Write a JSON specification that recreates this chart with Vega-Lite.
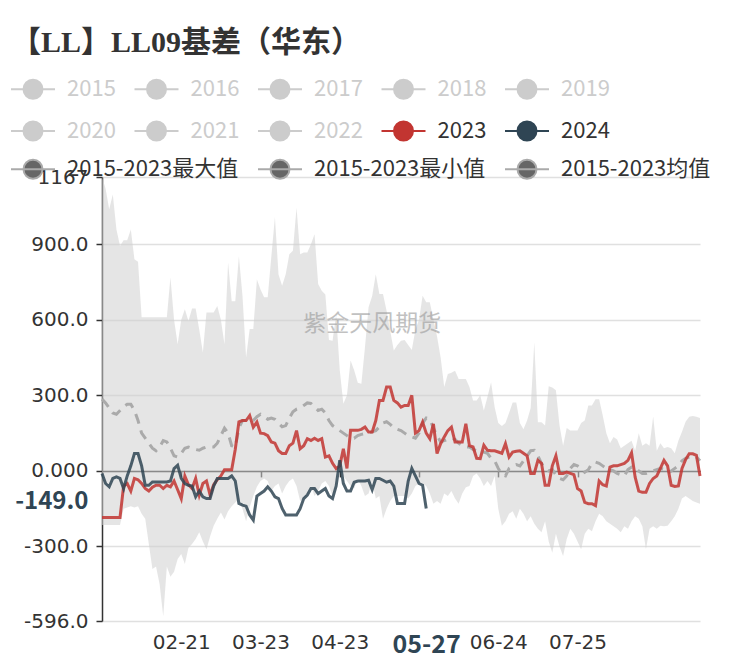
{
  "$schema": "https://vega.github.io/schema/vega-lite/v6.json",
  "width": 598,
  "height": 444,
  "autosize": {"type": "none"},
  "padding": {"left": 102, "top": 177, "right": 46, "bottom": 44},
  "background": "white",
  "config": {
    "view": {"stroke": null},
    "font": "Noto Sans CJK SC",
    "axis": {"labelFont": "DejaVu Sans", "title": null}
  },
  "title": {
    "text": "【LL】LL09基差（华东）",
    "orient": "top",
    "anchor": "start",
    "frame": "group",
    "font": "Liberation Serif, Noto Sans CJK SC",
    "fontSize": 30,
    "fontWeight": "bold",
    "color": "#333333",
    "dx": -91,
    "offset": 20
  },
  "datasets": {
    "band": [
      {"i":0,"lo":-215,"hi":1167},{"i":1,"lo":-215,"hi":1120},{"i":2,"lo":-215,"hi":1039},{"i":3,"lo":-215,"hi":1098},{"i":4,"lo":-215,"hi":960},{"i":5,"lo":-215,"hi":893},{"i":6,"lo":-150,"hi":916},{"i":7,"lo":-145,"hi":916},{"i":8,"lo":-140,"hi":959},{"i":9,"lo":-145,"hi":840},
      {"i":10,"lo":-140,"hi":830},{"i":11,"lo":-170,"hi":610},{"i":12,"lo":-190,"hi":610},{"i":13,"lo":-290,"hi":610},{"i":14,"lo":-390,"hi":610},{"i":15,"lo":-380,"hi":610},{"i":16,"lo":-450,"hi":610},{"i":17,"lo":-577,"hi":610},{"i":18,"lo":-380,"hi":610},{"i":19,"lo":-420,"hi":768},
      {"i":20,"lo":-400,"hi":600},{"i":21,"lo":-350,"hi":503},{"i":22,"lo":-330,"hi":600},{"i":23,"lo":-370,"hi":642},{"i":24,"lo":-305,"hi":595},{"i":25,"lo":-290,"hi":645},{"i":26,"lo":-270,"hi":645},{"i":27,"lo":-244,"hi":560},{"i":28,"lo":-280,"hi":470},{"i":29,"lo":-311,"hi":629},
      {"i":30,"lo":-260,"hi":629},{"i":31,"lo":-218,"hi":629},{"i":32,"lo":-190,"hi":655},{"i":33,"lo":-165,"hi":600},{"i":34,"lo":-193,"hi":503},{"i":35,"lo":-160,"hi":828},{"i":36,"lo":-140,"hi":674},{"i":37,"lo":-125,"hi":674},{"i":38,"lo":-112,"hi":852},{"i":39,"lo":-150,"hi":694},
      {"i":40,"lo":-200,"hi":450},{"i":41,"lo":-143,"hi":563},{"i":42,"lo":-100,"hi":563},{"i":43,"lo":-63,"hi":760},{"i":44,"lo":-40,"hi":720},{"i":45,"lo":-30,"hi":690},{"i":46,"lo":-40,"hi":690},{"i":47,"lo":-80,"hi":850},{"i":48,"lo":-60,"hi":1007},{"i":49,"lo":-50,"hi":780},
      {"i":50,"lo":-90,"hi":735},{"i":51,"lo":-60,"hi":781},{"i":52,"lo":-40,"hi":860},{"i":53,"lo":-30,"hi":874},{"i":54,"lo":-60,"hi":1045},{"i":55,"lo":-120,"hi":860},{"i":56,"lo":-110,"hi":867},{"i":57,"lo":-100,"hi":867},{"i":58,"lo":-60,"hi":900},{"i":59,"lo":-100,"hi":940},
      {"i":60,"lo":-80,"hi":742},{"i":61,"lo":-50,"hi":715},{"i":62,"lo":-40,"hi":700},{"i":63,"lo":-60,"hi":520},{"i":64,"lo":-100,"hi":517},{"i":65,"lo":-30,"hi":620},{"i":66,"lo":10,"hi":400},{"i":67,"lo":-20,"hi":267},{"i":68,"lo":-40,"hi":300},{"i":69,"lo":-60,"hi":438},
      {"i":70,"lo":-70,"hi":400},{"i":71,"lo":-30,"hi":350},{"i":72,"lo":-60,"hi":346},{"i":73,"lo":-100,"hi":491},{"i":74,"lo":-90,"hi":650},{"i":75,"lo":-40,"hi":694},{"i":76,"lo":-110,"hi":781},{"i":77,"lo":-100,"hi":702},{"i":78,"lo":-190,"hi":702},{"i":79,"lo":-150,"hi":636},
      {"i":80,"lo":-120,"hi":557},{"i":81,"lo":-100,"hi":478},{"i":82,"lo":-100,"hi":500},{"i":83,"lo":-100,"hi":517},{"i":84,"lo":-100,"hi":520},{"i":85,"lo":-110,"hi":500},{"i":86,"lo":-90,"hi":480},{"i":87,"lo":-60,"hi":560},{"i":88,"lo":-50,"hi":600},{"i":89,"lo":-50,"hi":695},
      {"i":90,"lo":-60,"hi":670},{"i":91,"lo":-90,"hi":670},{"i":92,"lo":-130,"hi":600},{"i":93,"lo":-120,"hi":535},{"i":94,"lo":-130,"hi":450},{"i":95,"lo":-90,"hi":333},{"i":96,"lo":-100,"hi":385},{"i":97,"lo":-80,"hi":390},{"i":98,"lo":-110,"hi":398},{"i":99,"lo":-130,"hi":365},
      {"i":100,"lo":-90,"hi":365},{"i":101,"lo":-65,"hi":365},{"i":102,"lo":-60,"hi":333},{"i":103,"lo":-20,"hi":280},{"i":104,"lo":-10,"hi":280},{"i":105,"lo":-30,"hi":300},{"i":106,"lo":-60,"hi":240},{"i":107,"lo":-40,"hi":293},{"i":108,"lo":-60,"hi":352},{"i":109,"lo":-20,"hi":253},
      {"i":110,"lo":-150,"hi":190},{"i":111,"lo":-218,"hi":178},{"i":112,"lo":-200,"hi":190},{"i":113,"lo":-170,"hi":230},{"i":114,"lo":-160,"hi":272},{"i":115,"lo":-190,"hi":272},{"i":116,"lo":-150,"hi":190},{"i":117,"lo":-170,"hi":165},{"i":118,"lo":-200,"hi":200},{"i":119,"lo":-180,"hi":250},
      {"i":120,"lo":-210,"hi":511},{"i":121,"lo":-230,"hi":193},{"i":122,"lo":-244,"hi":193},{"i":123,"lo":-200,"hi":180},{"i":124,"lo":-280,"hi":336},{"i":125,"lo":-325,"hi":331},{"i":126,"lo":-250,"hi":320},{"i":127,"lo":-300,"hi":180},{"i":128,"lo":-338,"hi":100},{"i":129,"lo":-270,"hi":170},
      {"i":130,"lo":-230,"hi":160},{"i":131,"lo":-250,"hi":160},{"i":132,"lo":-280,"hi":160},{"i":133,"lo":-311,"hi":190},{"i":134,"lo":-250,"hi":200},{"i":135,"lo":-230,"hi":260},{"i":136,"lo":-240,"hi":260},{"i":137,"lo":-200,"hi":285},{"i":138,"lo":-170,"hi":285},{"i":139,"lo":-180,"hi":220},
      {"i":140,"lo":-200,"hi":150},{"i":141,"lo":-210,"hi":110},{"i":142,"lo":-220,"hi":135},{"i":143,"lo":-230,"hi":125},{"i":144,"lo":-244,"hi":90},{"i":145,"lo":-220,"hi":100},{"i":146,"lo":-230,"hi":110},{"i":147,"lo":-200,"hi":120},{"i":148,"lo":-180,"hi":80},{"i":149,"lo":-190,"hi":150},
      {"i":150,"lo":-220,"hi":100},{"i":151,"lo":-311,"hi":110},{"i":152,"lo":-230,"hi":100},{"i":153,"lo":-220,"hi":216},{"i":154,"lo":-230,"hi":80},{"i":155,"lo":-218,"hi":110},{"i":156,"lo":-220,"hi":90},{"i":157,"lo":-218,"hi":95},{"i":158,"lo":-200,"hi":90},{"i":159,"lo":-180,"hi":70},
      {"i":160,"lo":-150,"hi":120},{"i":161,"lo":-110,"hi":155},{"i":162,"lo":-100,"hi":195},{"i":163,"lo":-110,"hi":215},{"i":164,"lo":-120,"hi":218},{"i":165,"lo":-125,"hi":215},{"i":166,"lo":-130,"hi":210}
    ],
    "mean": [
      {"i":0,"v":285},{"i":1,"v":270},{"i":2,"v":250},{"i":3,"v":230},{"i":4,"v":225},{"i":5,"v":240},{"i":6,"v":255},{"i":7,"v":265},{"i":8,"v":265},{"i":9,"v":240},
      {"i":10,"v":200},{"i":11,"v":150},{"i":12,"v":130},{"i":13,"v":110},{"i":14,"v":90},{"i":15,"v":80},{"i":16,"v":95},{"i":17,"v":120},{"i":18,"v":115},{"i":19,"v":90},
      {"i":20,"v":60},{"i":21,"v":55},{"i":22,"v":70},{"i":23,"v":90},{"i":24,"v":95},{"i":25,"v":90},{"i":26,"v":85},{"i":27,"v":82},{"i":28,"v":90},{"i":29,"v":95},
      {"i":30,"v":95},{"i":31,"v":95},{"i":32,"v":110},{"i":33,"v":140},{"i":34,"v":170},{"i":35,"v":150},{"i":36,"v":100},{"i":37,"v":95},{"i":38,"v":170},{"i":39,"v":200},
      {"i":40,"v":200},{"i":41,"v":195},{"i":42,"v":200},{"i":43,"v":215},{"i":44,"v":225},{"i":45,"v":215},{"i":46,"v":205},{"i":47,"v":210},{"i":48,"v":205},{"i":49,"v":190},
      {"i":50,"v":175},{"i":51,"v":180},{"i":52,"v":210},{"i":53,"v":235},{"i":54,"v":245},{"i":55,"v":250},{"i":56,"v":260},{"i":57,"v":270},{"i":58,"v":268},{"i":59,"v":255},
      {"i":60,"v":240},{"i":61,"v":245},{"i":62,"v":230},{"i":63,"v":200},{"i":64,"v":180},{"i":65,"v":170},{"i":66,"v":160},{"i":67,"v":150},{"i":68,"v":140},{"i":69,"v":130},
      {"i":70,"v":130},{"i":71,"v":140},{"i":72,"v":145},{"i":73,"v":148},{"i":74,"v":150},{"i":75,"v":155},{"i":76,"v":160},{"i":77,"v":175},{"i":78,"v":190},{"i":79,"v":195},
      {"i":80,"v":185},{"i":81,"v":170},{"i":82,"v":165},{"i":83,"v":160},{"i":84,"v":150},{"i":85,"v":140},{"i":86,"v":135},{"i":87,"v":130},{"i":88,"v":150},{"i":89,"v":190},
      {"i":90,"v":210},{"i":91,"v":205},{"i":92,"v":170},{"i":93,"v":140},{"i":94,"v":115},{"i":95,"v":120},{"i":96,"v":125},{"i":97,"v":130},{"i":98,"v":125},{"i":99,"v":110},
      {"i":100,"v":100},{"i":101,"v":95},{"i":102,"v":95},{"i":103,"v":85},{"i":104,"v":80},{"i":105,"v":75},{"i":106,"v":75},{"i":107,"v":70},{"i":108,"v":50},{"i":109,"v":40},
      {"i":110,"v":10},{"i":111,"v":-15},{"i":112,"v":-20},{"i":113,"v":10},{"i":114,"v":20},{"i":115,"v":25},{"i":116,"v":20},{"i":117,"v":40},{"i":118,"v":60},{"i":119,"v":80},
      {"i":120,"v":82},{"i":121,"v":60},{"i":122,"v":30},{"i":123,"v":10},{"i":124,"v":0},{"i":125,"v":5},{"i":126,"v":-15},{"i":127,"v":-30},{"i":128,"v":-35},{"i":129,"v":-20},
      {"i":130,"v":10},{"i":131,"v":25},{"i":132,"v":20},{"i":133,"v":10},{"i":134,"v":-5},{"i":135,"v":5},{"i":136,"v":30},{"i":137,"v":35},{"i":138,"v":30},{"i":139,"v":20},
      {"i":140,"v":10},{"i":141,"v":5},{"i":142,"v":0},{"i":143,"v":-10},{"i":144,"v":-15},{"i":145,"v":-20},{"i":146,"v":5},{"i":147,"v":15},{"i":148,"v":10},{"i":149,"v":0},
      {"i":150,"v":-10},{"i":151,"v":-10},{"i":152,"v":-5},{"i":153,"v":0},{"i":154,"v":5},{"i":155,"v":10},{"i":156,"v":5},{"i":157,"v":-10},{"i":158,"v":0},{"i":159,"v":10},
      {"i":160,"v":20},{"i":161,"v":40},{"i":162,"v":50},{"i":163,"v":55},{"i":164,"v":60},{"i":165,"v":55},{"i":166,"v":40}
    ],
    "years": [
      {"year":"2023","i":0,"v":-185},{"year":"2023","i":1,"v":-185},{"year":"2023","i":2,"v":-185},{"year":"2023","i":3,"v":-185},{"year":"2023","i":4,"v":-185},{"year":"2023","i":5,"v":-185},{"year":"2023","i":6,"v":-60},{"year":"2023","i":7,"v":-50},{"year":"2023","i":8,"v":-80},{"year":"2023","i":9,"v":-30},
      {"year":"2023","i":10,"v":-35},{"year":"2023","i":11,"v":-50},{"year":"2023","i":12,"v":-70},{"year":"2023","i":13,"v":-80},{"year":"2023","i":14,"v":-65},{"year":"2023","i":15,"v":-57},{"year":"2023","i":16,"v":-57},{"year":"2023","i":17,"v":-70},{"year":"2023","i":18,"v":-57},{"year":"2023","i":19,"v":-63},
      {"year":"2023","i":20,"v":-40},{"year":"2023","i":21,"v":-75},{"year":"2023","i":22,"v":-110},{"year":"2023","i":23,"v":-20},{"year":"2023","i":24,"v":-55},{"year":"2023","i":25,"v":-70},{"year":"2023","i":26,"v":-30},{"year":"2023","i":27,"v":-96},{"year":"2023","i":28,"v":-50},{"year":"2023","i":29,"v":-40},
      {"year":"2023","i":30,"v":-96},{"year":"2023","i":31,"v":-55},{"year":"2023","i":32,"v":-35},{"year":"2023","i":33,"v":-20},{"year":"2023","i":34,"v":5},{"year":"2023","i":35,"v":5},{"year":"2023","i":36,"v":5},{"year":"2023","i":37,"v":86},{"year":"2023","i":38,"v":195},{"year":"2023","i":39,"v":200},
      {"year":"2023","i":40,"v":200},{"year":"2023","i":41,"v":220},{"year":"2023","i":42,"v":174},{"year":"2023","i":43,"v":194},{"year":"2023","i":44,"v":150},{"year":"2023","i":45,"v":148},{"year":"2023","i":46,"v":140},{"year":"2023","i":47,"v":115},{"year":"2023","i":48,"v":110},{"year":"2023","i":49,"v":80},
      {"year":"2023","i":50,"v":69},{"year":"2023","i":51,"v":69},{"year":"2023","i":52,"v":100},{"year":"2023","i":53,"v":110},{"year":"2023","i":54,"v":160},{"year":"2023","i":55,"v":88},{"year":"2023","i":56,"v":100},{"year":"2023","i":57,"v":128},{"year":"2023","i":58,"v":121},{"year":"2023","i":59,"v":130},
      {"year":"2023","i":60,"v":121},{"year":"2023","i":61,"v":128},{"year":"2023","i":62,"v":55},{"year":"2023","i":63,"v":60},{"year":"2023","i":64,"v":30},{"year":"2023","i":65,"v":9},{"year":"2023","i":66,"v":20},{"year":"2023","i":67,"v":88},{"year":"2023","i":68,"v":10},{"year":"2023","i":69,"v":161},
      {"year":"2023","i":70,"v":161},{"year":"2023","i":71,"v":161},{"year":"2023","i":72,"v":165},{"year":"2023","i":73,"v":174},{"year":"2023","i":74,"v":154},{"year":"2023","i":75,"v":154},{"year":"2023","i":76,"v":200},{"year":"2023","i":77,"v":280},{"year":"2023","i":78,"v":280},{"year":"2023","i":79,"v":333},
      {"year":"2023","i":80,"v":333},{"year":"2023","i":81,"v":280},{"year":"2023","i":82,"v":270},{"year":"2023","i":83,"v":253},{"year":"2023","i":84,"v":260},{"year":"2023","i":85,"v":260},{"year":"2023","i":86,"v":300},{"year":"2023","i":87,"v":150},{"year":"2023","i":88,"v":160},{"year":"2023","i":89,"v":194},
      {"year":"2023","i":90,"v":150},{"year":"2023","i":91,"v":128},{"year":"2023","i":92,"v":187},{"year":"2023","i":93,"v":69},{"year":"2023","i":94,"v":108},{"year":"2023","i":95,"v":135},{"year":"2023","i":96,"v":160},{"year":"2023","i":97,"v":174},{"year":"2023","i":98,"v":115},{"year":"2023","i":99,"v":115},
      {"year":"2023","i":100,"v":115},{"year":"2023","i":101,"v":187},{"year":"2023","i":102,"v":100},{"year":"2023","i":103,"v":95},{"year":"2023","i":104,"v":50},{"year":"2023","i":105,"v":49},{"year":"2023","i":106,"v":102},{"year":"2023","i":107,"v":82},{"year":"2023","i":108,"v":80},{"year":"2023","i":109,"v":80},
      {"year":"2023","i":110,"v":75},{"year":"2023","i":111,"v":70},{"year":"2023","i":112,"v":108},{"year":"2023","i":113,"v":55},{"year":"2023","i":114,"v":75},{"year":"2023","i":115,"v":78},{"year":"2023","i":116,"v":80},{"year":"2023","i":117,"v":70},{"year":"2023","i":118,"v":60},{"year":"2023","i":119,"v":-10},
      {"year":"2023","i":120,"v":-10},{"year":"2023","i":121,"v":42},{"year":"2023","i":122,"v":30},{"year":"2023","i":123,"v":-57},{"year":"2023","i":124,"v":-57},{"year":"2023","i":125,"v":20},{"year":"2023","i":126,"v":60},{"year":"2023","i":127,"v":-10},{"year":"2023","i":128,"v":-10},{"year":"2023","i":129,"v":-5},
      {"year":"2023","i":130,"v":-10},{"year":"2023","i":131,"v":-15},{"year":"2023","i":132,"v":-70},{"year":"2023","i":133,"v":-80},{"year":"2023","i":134,"v":-125},{"year":"2023","i":135,"v":-130},{"year":"2023","i":136,"v":-130},{"year":"2023","i":137,"v":-138},{"year":"2023","i":138,"v":-40},{"year":"2023","i":139,"v":-55},
      {"year":"2023","i":140,"v":-60},{"year":"2023","i":141,"v":15},{"year":"2023","i":142,"v":20},{"year":"2023","i":143,"v":20},{"year":"2023","i":144,"v":25},{"year":"2023","i":145,"v":30},{"year":"2023","i":146,"v":42},{"year":"2023","i":147,"v":72},{"year":"2023","i":148,"v":-25},{"year":"2023","i":149,"v":-80},
      {"year":"2023","i":150,"v":-85},{"year":"2023","i":151,"v":-85},{"year":"2023","i":152,"v":-50},{"year":"2023","i":153,"v":-30},{"year":"2023","i":154,"v":-20},{"year":"2023","i":155,"v":10},{"year":"2023","i":156,"v":42},{"year":"2023","i":157,"v":20},{"year":"2023","i":158,"v":-57},{"year":"2023","i":159,"v":-62},
      {"year":"2023","i":160,"v":-60},{"year":"2023","i":161,"v":10},{"year":"2023","i":162,"v":45},{"year":"2023","i":163,"v":68},{"year":"2023","i":164,"v":68},{"year":"2023","i":165,"v":62},{"year":"2023","i":166,"v":-20},
      {"year":"2024","i":0,"v":-10},{"year":"2024","i":1,"v":-50},{"year":"2024","i":2,"v":-63},{"year":"2024","i":3,"v":-30},{"year":"2024","i":4,"v":-24},{"year":"2024","i":5,"v":-30},{"year":"2024","i":6,"v":-70},{"year":"2024","i":7,"v":-20},{"year":"2024","i":8,"v":20},{"year":"2024","i":9,"v":69},
      {"year":"2024","i":10,"v":69},{"year":"2024","i":11,"v":20},{"year":"2024","i":12,"v":-57},{"year":"2024","i":13,"v":-57},{"year":"2024","i":14,"v":-44},{"year":"2024","i":15,"v":-44},{"year":"2024","i":16,"v":-44},{"year":"2024","i":17,"v":-44},{"year":"2024","i":18,"v":-44},{"year":"2024","i":19,"v":-40},
      {"year":"2024","i":20,"v":9},{"year":"2024","i":21,"v":22},{"year":"2024","i":22,"v":-30},{"year":"2024","i":23,"v":-50},{"year":"2024","i":24,"v":-57},{"year":"2024","i":25,"v":-60},{"year":"2024","i":26,"v":-103},{"year":"2024","i":27,"v":-80},{"year":"2024","i":28,"v":-103},{"year":"2024","i":29,"v":-110},
      {"year":"2024","i":30,"v":-110},{"year":"2024","i":31,"v":-60},{"year":"2024","i":32,"v":-30},{"year":"2024","i":33,"v":-30},{"year":"2024","i":34,"v":-30},{"year":"2024","i":35,"v":-30},{"year":"2024","i":36,"v":-20},{"year":"2024","i":37,"v":-40},{"year":"2024","i":38,"v":-129},{"year":"2024","i":39,"v":-136},
      {"year":"2024","i":40,"v":-140},{"year":"2024","i":41,"v":-175},{"year":"2024","i":42,"v":-195},{"year":"2024","i":43,"v":-100},{"year":"2024","i":44,"v":-90},{"year":"2024","i":45,"v":-80},{"year":"2024","i":46,"v":-63},{"year":"2024","i":47,"v":-80},{"year":"2024","i":48,"v":-103},{"year":"2024","i":49,"v":-110},
      {"year":"2024","i":50,"v":-149},{"year":"2024","i":51,"v":-175},{"year":"2024","i":52,"v":-175},{"year":"2024","i":53,"v":-175},{"year":"2024","i":54,"v":-175},{"year":"2024","i":55,"v":-150},{"year":"2024","i":56,"v":-110},{"year":"2024","i":57,"v":-96},{"year":"2024","i":58,"v":-70},{"year":"2024","i":59,"v":-70},
      {"year":"2024","i":60,"v":-90},{"year":"2024","i":61,"v":-80},{"year":"2024","i":62,"v":-70},{"year":"2024","i":63,"v":-100},{"year":"2024","i":64,"v":-110},{"year":"2024","i":65,"v":-60},{"year":"2024","i":66,"v":42},{"year":"2024","i":67,"v":-50},{"year":"2024","i":68,"v":-80},{"year":"2024","i":69,"v":-80},
      {"year":"2024","i":70,"v":-45},{"year":"2024","i":71,"v":-40},{"year":"2024","i":72,"v":-40},{"year":"2024","i":73,"v":-40},{"year":"2024","i":74,"v":-37},{"year":"2024","i":75,"v":-75},{"year":"2024","i":76,"v":-30},{"year":"2024","i":77,"v":-30},{"year":"2024","i":78,"v":-37},{"year":"2024","i":79,"v":-45},
      {"year":"2024","i":80,"v":-40},{"year":"2024","i":81,"v":-60},{"year":"2024","i":82,"v":-129},{"year":"2024","i":83,"v":-129},{"year":"2024","i":84,"v":-129},{"year":"2024","i":85,"v":-40},{"year":"2024","i":86,"v":10},{"year":"2024","i":87,"v":-20},{"year":"2024","i":88,"v":-50},{"year":"2024","i":89,"v":-57},
      {"year":"2024","i":90,"v":-149}
    ]
  },
  "resolve": {"axis": {"x": "independent"}},
  "layer": [
    {
      "data": {"name": "band"},
      "mark": {"type": "area", "color": "#cfcfcf", "opacity": 0.55},
      "encoding": {
        "x": {"field": "i", "type": "quantitative", "scale": {"domain": [0, 166], "nice": false, "zero": false}, "axis": null},
        "y": {
          "field": "lo", "type": "quantitative",
          "scale": {"domain": [-596, 1167], "nice": false, "zero": false},
          "axis": {
            "title": null,
            "values": [-596, -300, -149, 0, 300, 600, 900, 1167],
            "labelExpr": "datum.value == 0 ? '0.000' : datum.value == 1167 ? '1167' : (datum.value < 0 ? '-' : '') + format(abs(datum.value), '.1f')",
            "domainColor": "#333333", "domainWidth": 1.5,
            "tickColor": "#333333", "tickSize": 6, "tickWidth": 1.5,
            "tickOpacity": {"condition": {"test": "datum.value == -149", "value": 0}, "value": 1},
            "grid": true, "gridColor": "#e0e0e0", "gridWidth": 1.5,
            "gridOpacity": {"condition": {"test": "datum.value == -149", "value": 0}, "value": 1},
            "labelFont": {"condition": {"test": "datum.value == -149", "value": "Noto Sans CJK SC"}, "value": "DejaVu Sans"},
            "labelFontSize": {"condition": {"test": "datum.value == -149", "value": 24}, "value": 20},
            "labelFontWeight": {"condition": {"test": "datum.value == -149", "value": "bold"}, "value": "normal"},
            "labelColor": {"condition": {"test": "datum.value == -149", "value": "#2f4554"}, "value": "#333333"},
            "labelOffset": {"condition": {"test": "datum.value == -149", "value": -7}, "value": 0},
            "labelPadding": 8,
            "labelOverlap": false,
            "labelBound": false
          }
        },
        "y2": {"field": "hi"}
      }
    },
    {
      "data": {"values": [{"t": "紫金天风期货"}]},
      "mark": {"type": "text", "fontSize": 23, "color": "#999999", "opacity": 0.6, "font": "Noto Sans CJK SC"},
      "encoding": {
        "x": {"datum": 75, "type": "quantitative", "axis": null},
        "y": {"datum": 583, "type": "quantitative"},
        "text": {"field": "t"}
      }
    },
    {
      "data": {"name": "mean"},
      "transform": [{"calculate": "'2015-2023均值'", "as": "series"}],
      "mark": {"type": "line", "strokeWidth": 3, "strokeDash": [10, 7]},
      "encoding": {
        "x": {
          "field": "i", "type": "quantitative",
          "axis": {
            "orient": "bottom", "title": null,
            "values": [22, 44, 66, 90, 110, 132],
            "labelExpr": "datum.value == 22 ? '02-21' : datum.value == 44 ? '03-23' : datum.value == 66 ? '04-23' : datum.value == 90 ? '05-27' : datum.value == 110 ? '06-24' : '07-25'",
            "domain": false, "ticks": false, "grid": false,
            "labelPadding": 11,
            "labelFont": {"condition": {"test": "datum.value == 90", "value": "Noto Sans CJK SC"}, "value": "DejaVu Sans"},
            "labelFontSize": {"condition": {"test": "datum.value == 90", "value": 25}, "value": 20},
            "labelFontWeight": {"condition": {"test": "datum.value == 90", "value": "bold"}, "value": "normal"},
            "labelColor": {"condition": {"test": "datum.value == 90", "value": "#2f4554"}, "value": "#333333"},
            "labelOverlap": false, "labelBound": false, "labelFlush": false
          }
        },
        "y": {"field": "v", "type": "quantitative"},
        "stroke": {
          "field": "series", "type": "nominal",
          "scale": {"domain": ["2015-2023最大值", "2015-2023最小值", "2015-2023均值"], "range": ["#aaaaaa", "#aaaaaa", "#aaaaaa"]},
          "legend": {
            "orient": "none", "legendX": -92, "legendY": -19,
            "direction": "horizontal", "columns": 3, "title": null,
            "symbolType": "M-1,0L3.4,0M2.15,0A0.95,0.95,0,1,1,0.25,0A0.95,0.95,0,1,1,2.15,0Z",
            "symbolSize": 400, "symbolStrokeWidth": 2, "symbolOpacity": 1, "symbolDash": [100, 0],
            "labelFontSize": 22, "labelFont": "Noto Sans CJK SC", "labelOffset": 35, "labelLimit": 400,
            "columnPadding": 15, "rowPadding": 14,
            "encode": {
              "symbols": {"update": {"fill": {"value": "#666666"}, "fillOpacity": {"value": 1}, "stroke": {"value": "#666666"}, "strokeOpacity": {"value": 1}, "strokeDash": {"value": [100, 0]}, "opacity": {"value": 1}}},
              "labels": {"update": {"fill": {"value": "#333333"}}}
            }
          }
        }
      }
    },
    {
      "data": {"name": "years"},
      "mark": {"type": "line", "strokeWidth": 3, "opacity": 0.85},
      "encoding": {
        "x": {
          "field": "i", "type": "quantitative",
          "axis": {
            "orient": "bottom", "title": null,
            "offset": {"expr": "scale('y', 0) - height"},
            "values": [22, 44, 66, 88, 110, 132],
            "labels": false, "grid": false,
            "domain": true, "domainColor": "#333333", "domainWidth": 1.5,
            "ticks": true, "tickColor": "#333333", "tickSize": 6, "tickWidth": 1.5
          }
        },
        "y": {"field": "v", "type": "quantitative"},
        "color": {
          "field": "year", "type": "nominal",
          "scale": {
            "domain": ["2015", "2016", "2017", "2018", "2019", "2020", "2021", "2022", "2023", "2024"],
            "range": ["#cccccc", "#cccccc", "#cccccc", "#cccccc", "#cccccc", "#cccccc", "#cccccc", "#cccccc", "#c23531", "#2f4554"]
          },
          "legend": {
            "orient": "none", "legendX": -92, "legendY": -99,
            "direction": "horizontal", "columns": 5, "title": null,
            "symbolType": "M-1,0L3.4,0M2.15,0A0.95,0.95,0,1,1,0.25,0A0.95,0.95,0,1,1,2.15,0Z",
            "symbolSize": 400, "symbolStrokeWidth": 2, "symbolOpacity": 1,
            "labelFontSize": 22, "labelFont": "Noto Sans CJK SC", "labelOffset": 35, "labelLimit": 400,
            "columnPadding": 14.5, "rowPadding": 14,
            "encode": {
              "symbols": {"update": {"fill": {"scale": "color", "field": "value"}, "fillOpacity": {"value": 1}, "stroke": {"scale": "color", "field": "value"}, "opacity": {"value": 1}}},
              "labels": {"update": {"fill": {"signal": "datum.value == '2023' || datum.value == '2024' ? '#333333' : '#cccccc'"}}}
            }
          }
        }
      }
    }
  ]
}
